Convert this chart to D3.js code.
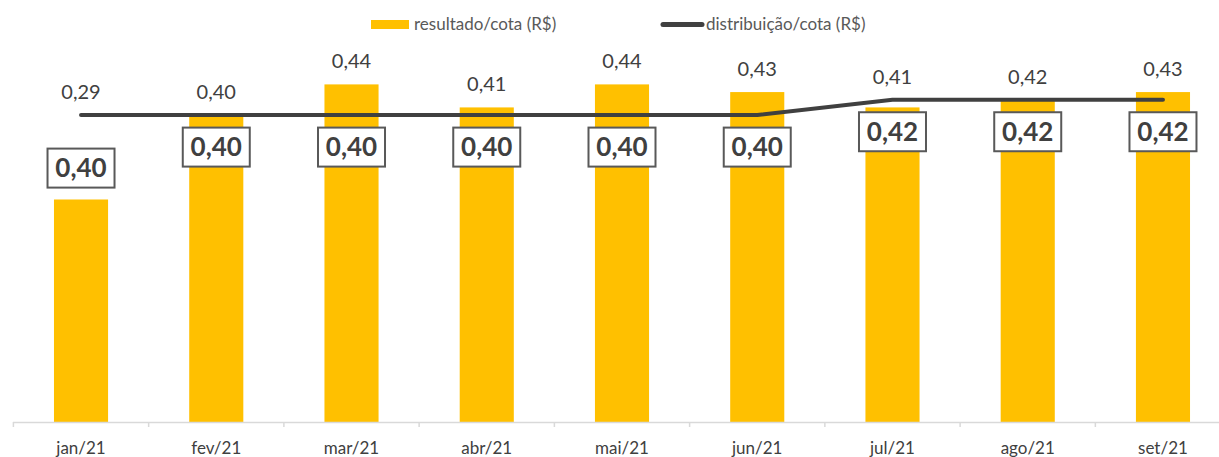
<!DOCTYPE html>
<html>
<head>
<meta charset="utf-8">
<script src="https://cdn.jsdelivr.net/npm/d3@7"></script>
<style>
  body { margin: 0; background: #fff; }
  svg text { font-family: Lato, "Open Sans", sans-serif; }
</style>
</head>
<body>
<div id="chart"></div>
<script>
const months = ['jan/21', 'fev/21', 'mar/21', 'abr/21', 'mai/21', 'jun/21', 'jul/21', 'ago/21', 'set/21'];
const resultado = [0.29, 0.40, 0.44, 0.41, 0.44, 0.43, 0.41, 0.42, 0.43];
const distribuicao = [0.40, 0.40, 0.40, 0.40, 0.40, 0.40, 0.42, 0.42, 0.42];
const legendLabels = ['resultado/cota (R$)', 'distribuição/cota (R$)'];

const width = 1219, height = 457;
const barColor = '#FFC000', lineColor = '#404040', textColor = '#404040';
const fmt = v => v.toFixed(2).replace('.', ',');

const svg = d3.select('#chart').append('svg')
  .attr('width', width)
  .attr('height', height);

// plot area runs past the right edge, like the original export
const x = d3.scaleBand()
  .domain(months)
  .range([13.4, 1230.6])
  .paddingInner(0.6)
  .paddingOuter(0.3);

const y = d3.scaleLinear()
  .domain([0, 0.55])
  .range([422, 0]);

const cx = d => x(d) + x.bandwidth() / 2;

// bars
svg.append('g')
  .selectAll('rect')
  .data(resultado)
  .enter().append('rect')
  .attr('x', (d, i) => x(months[i]))
  .attr('y', d => y(d))
  .attr('width', x.bandwidth())
  .attr('height', d => y(0) - y(d))
  .attr('fill', barColor);

// x axis with ticks at band edges
const axis = svg.append('g');
axis.append('line')
  .attr('x1', 13).attr('x2', width)
  .attr('y1', 422.5).attr('y2', 422.5)
  .attr('stroke', '#d9d9d9').attr('stroke-width', 1.5);
const step = x.step();
axis.selectAll('line.tick')
  .data(d3.range(months.length + 1))
  .enter().append('line')
  .attr('class', 'tick')
  .attr('x1', i => 13.4 + i * step).attr('x2', i => 13.4 + i * step)
  .attr('y1', 422).attr('y2', 427)
  .attr('stroke', '#d9d9d9').attr('stroke-width', 1.5);
axis.selectAll('text')
  .data(months)
  .enter().append('text')
  .attr('x', d => cx(d))
  .attr('y', 454)
  .attr('text-anchor', 'middle')
  .attr('font-size', 17)
  .attr('fill', textColor)
  .text(d => d);

// distribution line
const line = d3.line()
  .x((d, i) => cx(months[i]))
  .y(d => y(d));

svg.append('path')
  .datum(distribuicao)
  .attr('d', line)
  .attr('fill', 'none')
  .attr('stroke', lineColor)
  .attr('stroke-width', 4)
  .attr('stroke-linecap', 'round')
  .attr('stroke-linejoin', 'round');

// bar value labels, above bar or line whichever is higher
svg.append('g')
  .selectAll('text')
  .data(resultado)
  .enter().append('text')
  .attr('x', (d, i) => cx(months[i]))
  .attr('y', (d, i) => Math.min(y(d), y(distribuicao[i])) - 16)
  .attr('text-anchor', 'middle')
  .attr('font-size', 20)
  .attr('fill', textColor)
  .text(d => fmt(d));

// boxed distribution labels
const boxW = 67, boxH = 39;
const boxDy = i => (i === 0 ? 53 : 32);
const boxes = svg.append('g')
  .selectAll('g')
  .data(distribuicao)
  .enter().append('g')
  .attr('transform', (d, i) => 'translate(' + cx(months[i]) + ',' + (y(d) + boxDy(i)) + ')');

boxes.append('rect')
  .attr('x', -boxW / 2)
  .attr('y', -boxH / 2)
  .attr('width', boxW)
  .attr('height', boxH)
  .attr('fill', '#fff')
  .attr('stroke', '#595959')
  .attr('stroke-width', 2);

boxes.append('text')
  .attr('y', 9)
  .attr('text-anchor', 'middle')
  .attr('font-size', 26)
  .attr('font-weight', 'bold')
  .attr('fill', textColor)
  .text(d => fmt(d));

// legend
const legend = svg.append('g').attr('font-size', 17).attr('fill', '#595959');
legend.append('rect')
  .attr('x', 371).attr('y', 20)
  .attr('width', 38).attr('height', 9)
  .attr('fill', barColor);
legend.append('text')
  .attr('x', 414).attr('y', 30)
  .text(legendLabels[0]);
legend.append('line')
  .attr('x1', 663).attr('x2', 702)
  .attr('y1', 24.5).attr('y2', 24.5)
  .attr('stroke', lineColor)
  .attr('stroke-width', 5)
  .attr('stroke-linecap', 'round');
legend.append('text')
  .attr('x', 706).attr('y', 30)
  .text(legendLabels[1]);
</script>
</body>
</html>
